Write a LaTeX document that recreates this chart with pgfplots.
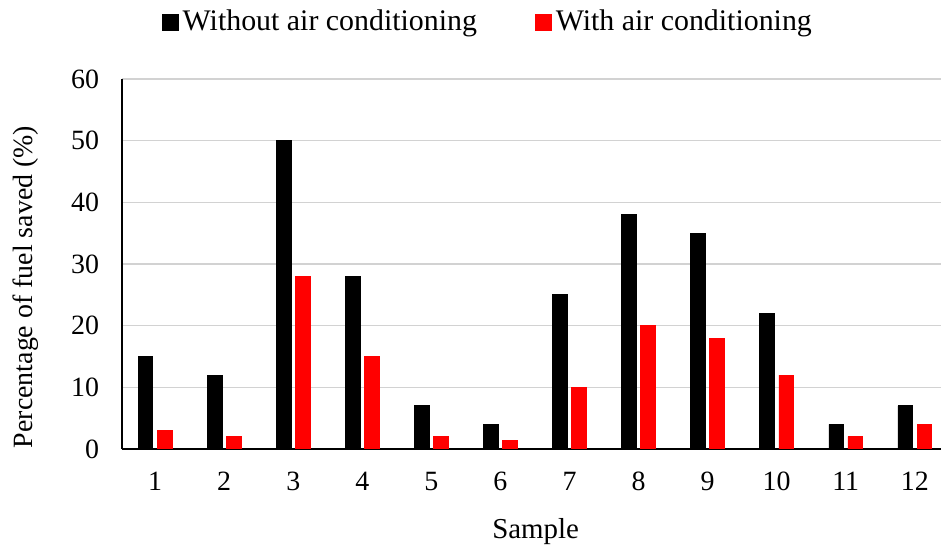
\documentclass[border=0pt]{standalone}
\usepackage{fontspec}
\setmainfont{Liberation Serif}
\usepackage{pgfplots}
\pgfplotsset{compat=1.18}
\begin{document}
\begin{tikzpicture}
\useasboundingbox (0,0) rectangle (471bp,272.5bp);
\begin{axis}[
  at={(61bp,48bp)}, anchor=south west,
  scale only axis, width=409.5bp, height=185bp,
  xmin=0.52, xmax=12.38, ymin=0, ymax=60,
  xtick={1,...,12}, ytick={0,10,...,60},
  axis x line*=bottom, axis y line*=left,
  axis line style={black, line width=1bp},
  ymajorgrids, grid style={gray!35, line width=0.7bp},
  major tick length=0,
  /pgf/number format/assume math mode=true,
  tick label style={font=\fontsize{14}{16}\selectfont},
  yticklabel style={xshift=-8bp},
  xticklabel style={yshift=-8bp},
  xlabel={Sample},
  xlabel style={font=\fontsize{14.5}{17}\selectfont, at={(rel axis cs:0.505,0)}, anchor=base, yshift=-44.5bp},
  ylabel={Percentage of fuel saved (\%)},
  ylabel style={font=\fontsize{14}{17}\selectfont, at={(axis description cs:-0.117,0.438)}, anchor=center, rotate=0},
  ybar, bar width=0.21,
  legend columns=2,
  legend style={draw=none, at={(0.448,1.154)}, anchor=center,
    font=\fontsize{15}{17}\selectfont,
    /tikz/every even column/.append style={column sep=27bp}},
  legend image code/.code={\fill[#1] (0bp,-4bp) rectangle (8bp,4bp);},
]
\addplot[fill=black, draw=black, bar shift=-0.138] coordinates {
(1,15) (2,12) (3,50) (4,28) (5,7) (6,4) (7,25) (8,38) (9,35) (10,22) (11,4) (12,7)};
\addplot[fill=red, draw=red, bar shift=0.138] coordinates {
(1,3) (2,2) (3,28) (4,15) (5,2) (6,1.4) (7,10) (8,20) (9,18) (10,12) (11,2) (12,4)};
\legend{Without air conditioning, With air conditioning}
\end{axis}
\end{tikzpicture}
\end{document}
